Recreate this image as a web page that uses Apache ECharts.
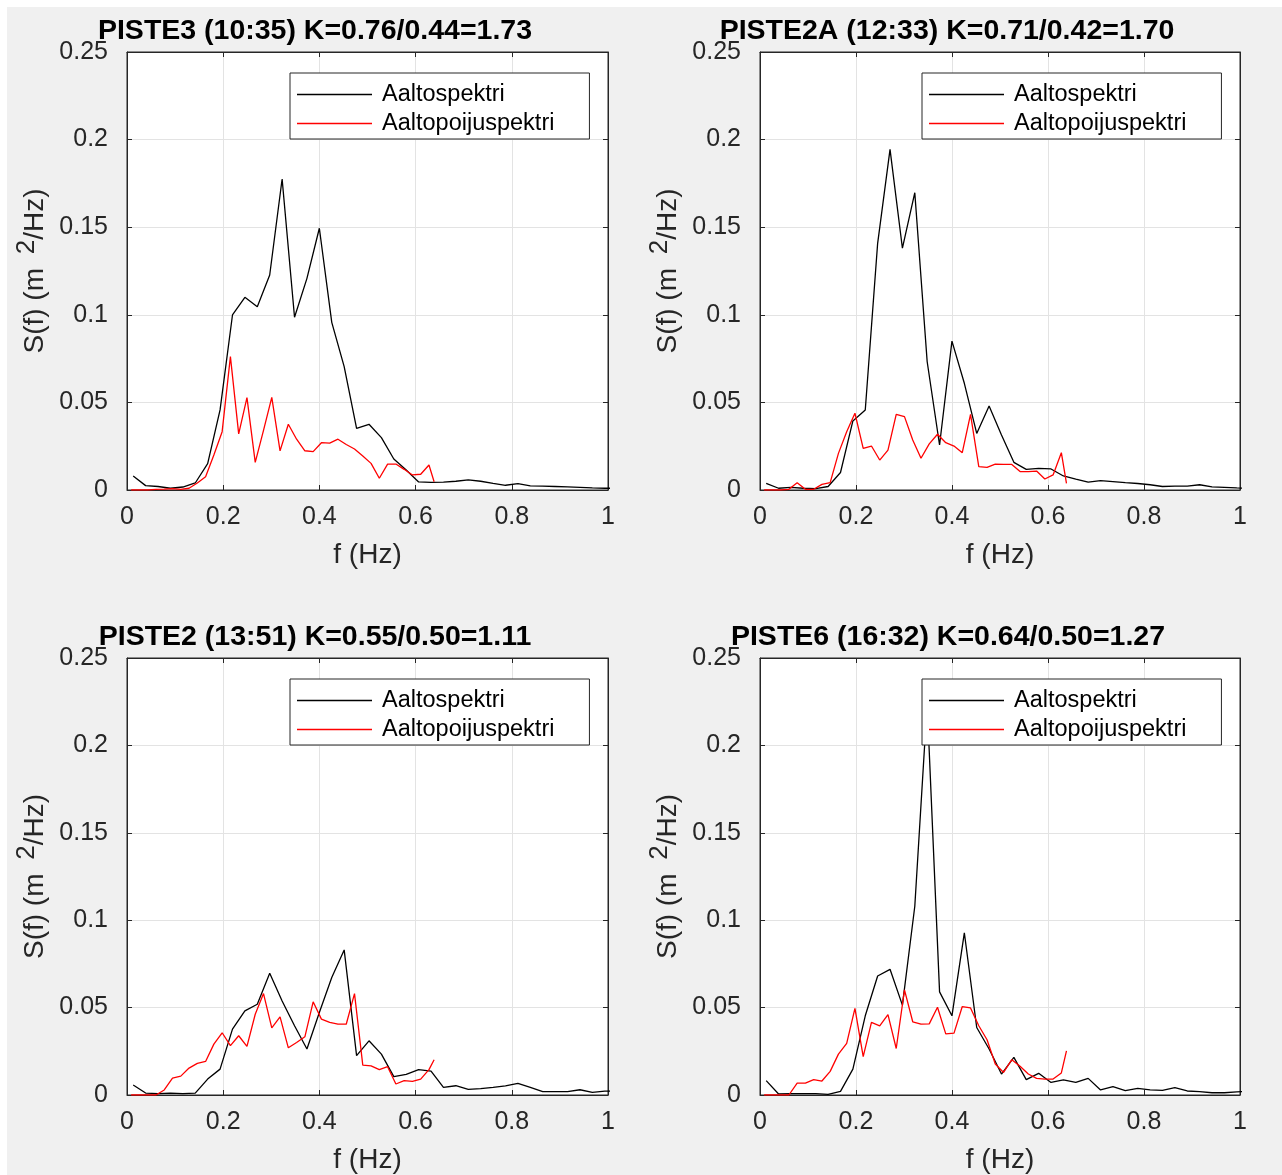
<!DOCTYPE html>
<html><head><meta charset="utf-8">
<script src="https://cdn.jsdelivr.net/npm/echarts@6/dist/echarts.min.js"></script>
<style>
html,body{margin:0;padding:0;background:#fff;width:1282px;height:1175px;overflow:hidden}
#c{position:absolute;left:7px;top:7px;width:1275px;height:1168px;}
</style></head>
<body><div id="c"></div>
<script>
// ---------------- DATA ----------------
const seriesNames = ['Aaltospektri', 'Aaltopoijuspektri'];
const titles = [
  'PISTE3 (10:35) K=0.76/0.44=1.73',
  'PISTE2A (12:33) K=0.71/0.42=1.70',
  'PISTE2 (13:51) K=0.55/0.50=1.11',
  'PISTE6 (16:32) K=0.64/0.50=1.27'
];
const xTickLabels = ['0', '0.2', '0.4', '0.6', '0.8', '1'];
const yTickLabels = ['0', '0.05', '0.1', '0.15', '0.2', '0.25'];

// frequency grid of the wave spectrum (Hz)
const freqWave = [0.0129, 0.0387, 0.0645, 0.0903, 0.1161, 0.1419, 0.1677, 0.1935, 0.2193, 0.2451,
  0.2709, 0.2967, 0.3225, 0.3483, 0.3741, 0.3999, 0.4257, 0.4515, 0.4773, 0.5031,
  0.5289, 0.5547, 0.5805, 0.6063, 0.6321, 0.6579, 0.6837, 0.7095, 0.7353, 0.7611,
  0.7869, 0.8127, 0.8385, 0.8643, 0.8901, 0.9159, 0.9417, 0.9675, 0.9933, 1.0191];
// frequency grid of the wave-buoy spectrum (Hz)
const freqBuoy = [0.0086, 0.0258, 0.0430, 0.0602, 0.0774, 0.0946, 0.1118, 0.1290, 0.1462, 0.1634,
  0.1806, 0.1978, 0.2150, 0.2322, 0.2494, 0.2666, 0.2838, 0.3010, 0.3182, 0.3354,
  0.3526, 0.3698, 0.3870, 0.4042, 0.4214, 0.4386, 0.4558, 0.4730, 0.4902, 0.5074,
  0.5246, 0.5418, 0.5590, 0.5762, 0.5934, 0.6106, 0.6278, 0.6385];

const wave1 = [0.008, 0.0025, 0.002, 0.001, 0.0017, 0.004, 0.015, 0.0457, 0.0999, 0.110,
  0.1046, 0.1227, 0.1775, 0.0986, 0.1208, 0.1494, 0.0957, 0.0704, 0.0352, 0.0375,
  0.0299, 0.0177, 0.0114, 0.0046, 0.0043, 0.0045, 0.005, 0.0058, 0.005, 0.0038,
  0.0027, 0.0036, 0.0024, 0.0022, 0.002, 0.0018, 0.0015, 0.0012, 0.001, 0.001];
const buoy1 = [0, 0, 0, 0.0003, 0.0005, 0.0008, 0.0004, 0.001, 0.004, 0.0076,
  0.02, 0.0333, 0.0761, 0.032, 0.0527, 0.0158, 0.034, 0.0529, 0.0223, 0.0375,
  0.029, 0.0224, 0.0219, 0.027, 0.0268, 0.029, 0.026, 0.0234, 0.0194, 0.0152,
  0.0067, 0.0148, 0.0148, 0.0118, 0.0086, 0.009, 0.0143, 0.0047];

const wave2 = [0.0038, 0.001, 0.0015, 0.001, 0.0008, 0.002, 0.010, 0.0394, 0.0457, 0.1408,
  0.1944, 0.138, 0.1697, 0.0732, 0.0257, 0.085, 0.0609, 0.0323, 0.048, 0.0314,
  0.0158, 0.0118, 0.0124, 0.012, 0.008, 0.0062, 0.0045, 0.0053, 0.0048, 0.0042,
  0.0037, 0.003, 0.002, 0.0022, 0.0022, 0.003, 0.0018, 0.0015, 0.0012, 0.001];
const buoy2 = [0, 0, 0, 0.0004, 0.0042, 0.0004, 0.0004, 0.0032, 0.0042, 0.0209,
  0.0333, 0.0438, 0.0238, 0.0251, 0.0171, 0.0228, 0.0432, 0.0419, 0.0285, 0.0181,
  0.0263, 0.0318, 0.027, 0.0251, 0.0213, 0.0432, 0.0133, 0.0129, 0.0148, 0.0146,
  0.0146, 0.0105, 0.0105, 0.0108, 0.0063, 0.0086, 0.0213, 0.0038];

const wave3 = [0.0057, 0.0011, 0.0008, 0.0011, 0.0008, 0.0011, 0.0091, 0.0148, 0.0377, 0.0481,
  0.0519, 0.0696, 0.0538, 0.0396, 0.0263, 0.0472, 0.0672, 0.083, 0.0225, 0.031,
  0.0234, 0.0105, 0.0118, 0.0145, 0.0137, 0.0044, 0.0053, 0.0032, 0.0037, 0.0044,
  0.0052, 0.0066, 0.0044, 0.0019, 0.0019, 0.0019, 0.003, 0.0015, 0.0022, 0.0023];
const buoy3 = [0, 0, 0, 0, 0.0029, 0.0097, 0.0108, 0.0154, 0.0181, 0.0192,
  0.0291, 0.0356, 0.0282, 0.0339, 0.0278, 0.0462, 0.058, 0.0384, 0.0447, 0.027,
  0.030, 0.0333, 0.0533, 0.0434, 0.0415, 0.0405, 0.0405, 0.058, 0.0171, 0.0167,
  0.0145, 0.0162, 0.0063, 0.0082, 0.0078, 0.0091, 0.0145, 0.0202];

const wave4 = [0.0082, 0.0006, 0.0008, 0.0008, 0.0008, 0.0004, 0.0021, 0.0148, 0.0453, 0.0681,
  0.0719, 0.0514, 0.108, 0.224, 0.059, 0.0453, 0.0928, 0.0386, 0.0263, 0.012,
  0.0215, 0.0088, 0.0124, 0.0072, 0.0086, 0.0072, 0.0095, 0.0029, 0.0048, 0.0025,
  0.0038, 0.0029, 0.0027, 0.0042, 0.0023, 0.0019, 0.0013, 0.0013, 0.0018, 0.002];
const buoy4 = [0, 0, 0, 0, 0.0068, 0.0068, 0.0088, 0.008, 0.0135, 0.0234,
  0.0295, 0.0495, 0.0219, 0.0415, 0.0396, 0.046, 0.0266, 0.0601, 0.0419, 0.0405,
  0.0407, 0.0502, 0.035, 0.0354, 0.0506, 0.0498, 0.0396, 0.0316, 0.0177, 0.0129,
  0.0202, 0.0164, 0.012, 0.0095, 0.0091, 0.0091, 0.0126, 0.0253];

const waveSets = [wave1, wave2, wave3, wave4];
const buoySets = [buoy1, buoy2, buoy3, buoy4];

// ---------------- LAYOUT / STYLE ----------------
const FONT = '"Liberation Sans", Arial, Helvetica, sans-serif';
const AX = '#262626';
const panels = [
  {left: 120, top: 45, width: 481, titleX: 308, titleY: 10, legX: 283, legY: 66},
  {left: 753, top: 45, width: 480, titleX: 940, titleY: 10, legX: 915, legY: 66},
  {left: 120, top: 651, width: 481, titleX: 308, titleY: 616, legX: 283, legY: 672},
  {left: 753, top: 651, width: 480, titleX: 941, titleY: 616, legX: 915, legY: 672}
];
const PH = 438;

const zip = (xs, ys) => ys.map((y, i) => [xs[i], y]);

const grid = [], xAxis = [], yAxis = [], series = [], title = [], legend = [];
panels.forEach((p, i) => {
  grid.push({left: p.left, top: p.top, width: p.width, height: PH, show: true,
    backgroundColor: '#ffffff', borderColor: AX, borderWidth: 1, containLabel: false});
  const tick = {show: true, inside: true, length: 5, lineStyle: {color: AX, width: 1}};
  const line = {show: true, onZero: false, lineStyle: {color: AX, width: 1}};
  xAxis.push({type: 'value', gridIndex: i, position: 'bottom', min: 0, max: 1, interval: 0.2,
    axisLine: line, axisTick: tick,
    axisLabel: {margin: 15, fontSize: 25, color: AX, fontFamily: FONT,
      formatter: v => xTickLabels[Math.round(v / 0.2)]},
    splitLine: {show: true, lineStyle: {color: '#e3e3e3', width: 1}},
    name: 'f (Hz)', nameLocation: 'middle', nameGap: 51,
    nameTextStyle: {fontSize: 28, color: AX, fontFamily: FONT}});
  xAxis.push({type: 'value', gridIndex: i, position: 'top', min: 0, max: 1, interval: 0.2,
    axisLine: line, axisTick: tick, axisLabel: {show: false}, splitLine: {show: false}});
  yAxis.push({type: 'value', gridIndex: i, position: 'left', min: 0, max: 0.25, interval: 0.05,
    axisLine: line, axisTick: tick,
    axisLabel: {margin: 19, fontSize: 25, color: AX, fontFamily: FONT,
      formatter: v => yTickLabels[Math.round(v / 0.05)]},
    splitLine: {show: true, lineStyle: {color: '#e3e3e3', width: 1}},
    name: '{m|S(f) (m }{s|2}{m|/Hz)}', nameLocation: 'middle', nameGap: 71,
    nameTextStyle: {color: AX, fontFamily: FONT, fontSize: 28,
      rich: {m: {fontSize: 28, color: AX, fontFamily: FONT, lineHeight: 42, verticalAlign: 'middle'},
             s: {fontSize: 26, color: AX, fontFamily: FONT, lineHeight: 26, verticalAlign: 'top',
                 padding: [0, 0, 0, 6]}}}});
  yAxis.push({type: 'value', gridIndex: i, position: 'right', min: 0, max: 0.25, interval: 0.05,
    axisLine: line, axisTick: tick, axisLabel: {show: false}, splitLine: {show: false}});

  series.push({type: 'line', name: seriesNames[0], xAxisIndex: 2 * i, yAxisIndex: 2 * i,
    data: zip(freqWave, waveSets[i]), symbol: 'none', clip: true, animation: false,
    lineStyle: {color: '#000000', width: 1.3}, itemStyle: {color: '#000000'}, z: 3});
  series.push({type: 'line', name: seriesNames[1], xAxisIndex: 2 * i, yAxisIndex: 2 * i,
    data: zip(freqBuoy, buoySets[i]), symbol: 'none', clip: true, animation: false,
    lineStyle: {color: '#ff0000', width: 1.3}, itemStyle: {color: '#ff0000'}, z: 4});

  title.push({text: titles[i], left: p.titleX, top: p.titleY, textAlign: 'center', padding: 0,
    textStyle: {fontSize: 28.5, fontWeight: 'bold', color: '#000', fontFamily: FONT}});

  legend.push({left: p.legX, top: p.legY, orient: 'vertical', selectedMode: false,
    backgroundColor: '#ffffff', borderColor: AX, borderWidth: 1, borderRadius: 0,
    padding: [9, 35, 3, 7], itemGap: 4, itemWidth: 75, itemHeight: 1.3, z: 10,
    textStyle: {fontSize: 23.5, color: '#000', fontFamily: FONT, lineHeight: 25, padding: [0, 0, 0, 5]},
    data: [{name: seriesNames[0], icon: 'rect', itemStyle: {color: '#000'}},
           {name: seriesNames[1], icon: 'rect', itemStyle: {color: '#ff0000'}}]});
});

const chart = echarts.init(document.getElementById('c'), null, {renderer: 'canvas'});
chart.setOption({
  backgroundColor: '#f0f0f0', animation: false,
  title, legend, grid, xAxis, yAxis, series
});
</script>
</body></html>
